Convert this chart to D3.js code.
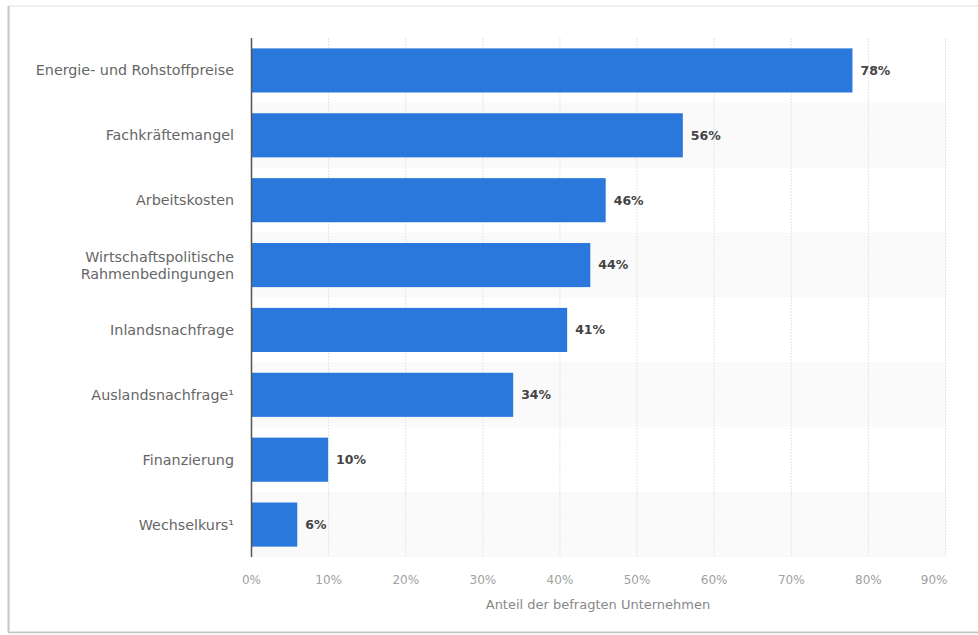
<!DOCTYPE html>
<html>
<head>
<meta charset="utf-8">
<script src="https://cdn.jsdelivr.net/npm/d3@7.9.0/dist/d3.min.js"></script>
<style>
  html, body { margin: 0; padding: 0; background: #fff; }
  svg { display: block; font-family: "DejaVu Sans", sans-serif; }
</style>
</head>
<body>
<svg id="chart" width="978" height="635"></svg>
<script>
// values
const categories = [
    ['Energie- und Rohstoffpreise'],
    ['Fachkräftemangel'],
    ['Arbeitskosten'],
    ['Wirtschaftspolitische', 'Rahmenbedingungen'],
    ['Inlandsnachfrage'],
    ['Auslandsnachfrage¹'],
    ['Finanzierung'],
    ['Wechselkurs¹']
];
const values = [78, 56, 46, 44, 41, 34, 10, 6];
const xTicks = [0, 10, 20, 30, 40, 50, 60, 70, 80, 90];
const xTitle = 'Anteil der befragten Unternehmen';

const svg = d3.select('#chart');
const plot = { left: 251, right: 945, top: 38, bottom: 557 };

// card frame
svg.append('rect')
   .attr('x', 9).attr('y', 6)
   .attr('width', 980).attr('height', 626)
   .attr('fill', '#fff')
   .attr('stroke', '#e2e2e2');
svg.append('line')
   .attr('x1', 8.5).attr('x2', 8.5).attr('y1', 6).attr('y2', 632)
   .attr('stroke', '#c8c8c8').attr('stroke-width', 2);
svg.append('line')
   .attr('x1', 8).attr('x2', 978).attr('y1', 632.5).attr('y2', 632.5)
   .attr('stroke', '#c4c4c4').attr('stroke-width', 1.5);

const ids = categories.map((c, i) => i);

let x = d3.scaleLinear().domain([0, 90]).range([plot.left, plot.right]);
let y = d3.scaleBand().domain(ids).range([plot.top, plot.bottom])
          .paddingInner(0.32).paddingOuter(0.16);

// alternating row stripes
svg.append('g').selectAll('rect')
   .data(ids.filter((i) => i % 2 === 1))
   .join('rect')
   .attr('x', plot.left)
   .attr('y', (i) => y(i) - y.step() * y.paddingInner() / 2)
   .attr('width', plot.right - plot.left)
   .attr('height', y.step())
   .attr('fill', '#fafafa');

// vertical grid
svg.append('g').selectAll('line')
   .data(xTicks.slice(1))
   .join('line')
   .attr('x1', (d) => x(d) + 0.5).attr('x2', (d) => x(d) + 0.5)
   .attr('y1', plot.top).attr('y2', plot.bottom)
   .attr('stroke', '#e4e4e4')
   .attr('stroke-dasharray', '2,1');

// bars
svg.append('g').selectAll('rect')
   .data(ids)
   .join('rect')
   .attr('x', x(0))
   .attr('y', (i) => y(i))
   .attr('width', (i) => x(values[i]) - x(0))
   .attr('height', y.bandwidth())
   .attr('fill', '#2b78dd');

// value labels
svg.append('g').selectAll('text')
   .data(ids)
   .join('text')
   .attr('x', (i) => x(values[i]) + 8)
   .attr('y', (i) => y(i) + y.bandwidth() / 2)
   .attr('dy', '0.35em')
   .attr('fill', '#444')
   .attr('font-size', 12.5)
   .attr('font-weight', 'bold')
   .text((i) => values[i] + '%');

// category labels
const catG = svg.append('g');
ids.forEach((i) => {
    const lines = categories[i];
    const t = catG.append('text')
                  .attr('text-anchor', 'end')
                  .attr('fill', '#666')
                  .attr('font-size', 14.3);
    lines.forEach((line, k) => {
        t.append('tspan')
         .attr('x', 234)
         .attr('y', y(i) + y.bandwidth() / 2 + (k - (lines.length - 1) / 2) * 17)
         .attr('dy', '0.35em')
         .text(line);
    });
});

// y axis line
svg.append('line')
   .attr('x1', plot.left + 0.5).attr('x2', plot.left + 0.5)
   .attr('y1', plot.top).attr('y2', plot.bottom)
   .attr('stroke', '#555').attr('stroke-width', 1.5);

// x axis ticks
const xAxis = svg.append('g')
   .attr('transform', `translate(0,${plot.bottom + 20})`)
   .call(d3.axisBottom(x).tickValues(xTicks).tickFormat((d) => d + '%').tickSize(0));
xAxis.select('.domain').remove();
xAxis.selectAll('text')
     .attr('fill', '#a0a0a0')
     .attr('font-size', 12)
     .attr('font-family', '"DejaVu Sans", sans-serif')
     .attr('dy', '0.35em');
// last label sits flush with the plot's right edge
xAxis.selectAll('.tick').filter((d) => d === 90).select('text')
     .attr('text-anchor', 'end')
     .attr('x', 2);

svg.append('text')
   .attr('x', (plot.left + plot.right) / 2)
   .attr('y', 604)
   .attr('dy', '0.35em')
   .attr('text-anchor', 'middle')
   .attr('fill', '#888')
   .attr('font-size', 13)
   .text(xTitle);
</script>
</body>
</html>
